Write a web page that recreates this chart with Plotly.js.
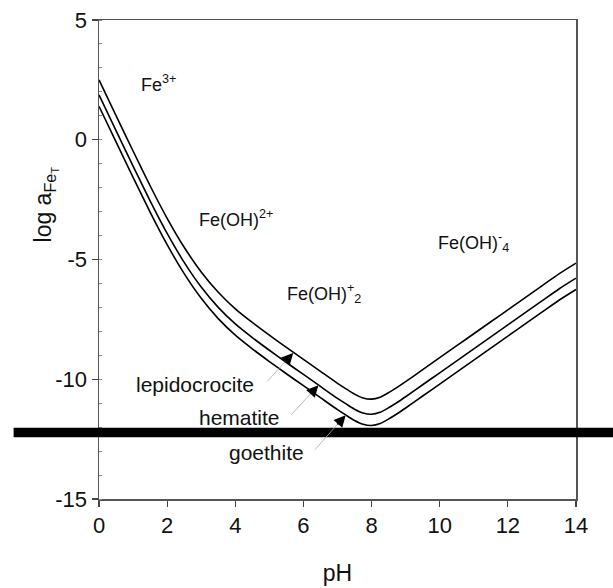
<!DOCTYPE html>
<html>
<head>
<meta charset="utf-8">
<script src="https://cdn.plot.ly/plotly-3.0.1.min.js"></script>
<style>html,body{margin:0;padding:0;background:#fff;}#chart{width:613px;height:588px;}</style>
</head>
<body>
<div id="chart"></div>
<script>
// pH grid
const pH = [0,0.5,1,1.5,2,2.5,3,3.5,4,4.5,5,5.5,6,6.5,7,7.25,7.5,7.75,8,8.25,8.5,8.75,9,9.5,10,10.5,11,11.5,12,12.5,13,13.5,14];
// log a_FeT read for each mineral
const goethite = [1.40,-0.09,-1.57,-3.02,-4.38,-5.59,-6.62,-7.47,-8.16,-8.73,-9.26,-9.77,-10.27,-10.77,-11.27,-11.50,-11.72,-11.88,-11.93,-11.85,-11.66,-11.44,-11.20,-10.70,-10.20,-9.70,-9.20,-8.70,-8.20,-7.70,-7.20,-6.70,-6.25];
const hematite = [1.87,0.38,-1.10,-2.55,-3.91,-5.12,-6.15,-7.00,-7.69,-8.26,-8.79,-9.30,-9.80,-10.30,-10.80,-11.03,-11.25,-11.41,-11.46,-11.38,-11.19,-10.97,-10.73,-10.23,-9.73,-9.23,-8.73,-8.23,-7.73,-7.23,-6.73,-6.23,-5.78];
const lepidocrocite = [2.50,1.01,-0.47,-1.92,-3.28,-4.49,-5.52,-6.37,-7.06,-7.63,-8.16,-8.67,-9.17,-9.67,-10.17,-10.40,-10.62,-10.78,-10.83,-10.75,-10.56,-10.34,-10.10,-9.60,-9.10,-8.60,-8.10,-7.60,-7.10,-6.60,-6.10,-5.60,-5.15];

const xTicks = [0,2,4,6,8,10,12,14];
const yTicks = [5,0,-5,-10,-15];

// species labels
const speciesText = ["Fe<sup>3+</sup>","Fe(OH)<sup>2+</sup>","Fe(OH)<sup>+</sup><sub>2</sub>","Fe(OH)<sup>-</sup><sub>4</sub>"];
const speciesX = [1.75,4.03,6.6,11.0];
const speciesY = [2.35,-3.3,-6.4,-4.3];

// mineral labels and arrows
const mineralText = ["lepidocrocite","hematite","goethite"];
const mineralX = [2.82,4.12,4.93];
const mineralY = [-10.2,-11.6,-13.05];
const arrowTailX = [4.9,5.6,6.3];
const arrowTailY = [-10.15,-11.55,-13.0];
const arrowTipX = [5.7,6.44,7.24];
const arrowTipY = [-8.9,-10.25,-11.5];

const font = "Liberation Sans, Arial, Helvetica, sans-serif";
const lineStyle = {color:'#000', width:1.6, shape:'spline', smoothing:0.6};

const traces = [goethite, hematite, lepidocrocite].map(function(v){
  return {x:pH, y:v, type:'scatter', mode:'lines', line:lineStyle, hoverinfo:'skip', showlegend:false};
});

const annotations = [];
for (let i=0;i<speciesText.length;i++){
  annotations.push({x:speciesX[i], y:speciesY[i], xref:'x', yref:'y', text:speciesText[i], showarrow:false,
    xanchor:'center', yanchor:'middle', font:{family:font, size:18, color:'#111'}});
}
for (let i=0;i<mineralText.length;i++){
  annotations.push({x:mineralX[i], y:mineralY[i], xref:'x', yref:'y', text:mineralText[i], showarrow:false,
    xanchor:'center', yanchor:'middle', font:{family:font, size:21, color:'#111'}});
  // thin grey leader line
  annotations.push({x:arrowTipX[i], y:arrowTipY[i], xref:'x', yref:'y', ax:arrowTailX[i], ay:arrowTailY[i],
    axref:'x', ayref:'y', text:'', showarrow:true, arrowhead:0, arrowwidth:0.8, arrowcolor:'#aaa', standoff:0});
  // black arrowhead
  const dx = arrowTipX[i]-arrowTailX[i], dy = arrowTipY[i]-arrowTailY[i];
  annotations.push({x:arrowTipX[i], y:arrowTipY[i], xref:'x', yref:'y',
    ax:arrowTipX[i]-dx*0.3, ay:arrowTipY[i]-dy*0.3, axref:'x', ayref:'y',
    text:'', showarrow:true, arrowhead:2, arrowsize:1.3, arrowwidth:1.8, arrowcolor:'#000', standoff:0});
}
// y-axis title as annotation (offset from centre like the original)
annotations.push({xref:'paper', yref:'paper', x:-0.112, y:0.614, xanchor:'center', yanchor:'middle',
  text:'log a<sub>Fe<sub>T</sub></sub>',
  textangle:-90, showarrow:false, font:{family:font, size:23, color:'#111'}});

const layout = {
  width:613, height:588,
  margin:{l:99, r:37, t:20, b:89, pad:0},
  paper_bgcolor:'#fff', plot_bgcolor:'#fff',
  showlegend:false,
  font:{family:font, color:'#111'},
  xaxis:{range:[0,14], tickvals:xTicks, ticktext:xTicks.map(String), ticks:'outside', ticklen:6, tickwidth:1.2,
    tickcolor:'#444', showline:true, linecolor:'#555', linewidth:1.5, mirror:true, showgrid:false, zeroline:false,
    tickfont:{family:font, size:22, color:'#111'},
    title:{text:'pH', font:{family:font, size:23, color:'#111'}, standoff:28}},
  yaxis:{range:[-15,5], tickvals:yTicks, ticktext:yTicks.map(String), ticks:'outside', ticklen:6, tickwidth:1.2,
    tickcolor:'#444', showline:true, linecolor:'#555', linewidth:1.5, mirror:true, showgrid:false, zeroline:false,
    tickfont:{family:font, size:22, color:'#111'},
    minor:{dtick:1, ticks:'inside', ticklen:3, tickcolor:'#888', tickwidth:1}},
  shapes:[{type:'rect', xref:'paper', yref:'y', x0:-0.179, x1:1.09, y0:-12.42, y1:-12.02,
    fillcolor:'#000', line:{width:0}, layer:'above'}],
  annotations:annotations
};

Plotly.newPlot('chart', traces, layout, {staticPlot:true, displayModeBar:false});
</script>
</body>
</html>
